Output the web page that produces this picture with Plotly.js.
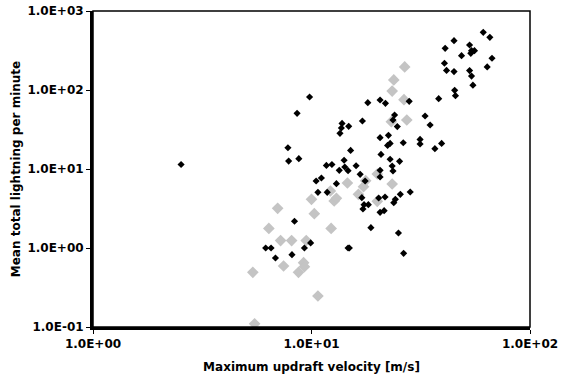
<!DOCTYPE html>
<html>
<head>
<meta charset="utf-8">
<script src="https://cdn.plot.ly/plotly-3.0.1.min.js"></script>
<style>html,body{margin:0;padding:0;background:#fff;}#chart{width:576px;height:385px;}</style>
</head>
<body>
<div id="chart"></div>
<script>
// Black series: maximum updraft velocity [m/s] vs mean total lightning per minute
const blackX = [2.53, 9.8, 8.59, 7.80, 7.86, 8.75, 8.36, 6.17, 6.53, 6.84, 8.14, 9.28, 9.91, 10.5, 11.1, 10.7, 11.7, 12.4, 11.8, 13.0, 13.4, 14.1, 14.2, 14.7, 13.5, 13.7, 13.8, 14.8, 15.1, 14.7, 14.9, 16.0, 16.7, 17.1, 18.1, 17.6, 17.0, 17.2, 17.4, 18.2, 18.7, 20.6, 21.8, 20.6, 20.8, 20.6, 20.6, 20.3, 20.6, 21.7, 21.5, 22.5, 22.3, 22.9, 23.6, 24.0, 24.7, 22.9, 23.4, 23.6, 23.8, 24.2, 25.3, 25.5, 25.0, 26.3, 26.4, 28.0, 28.3, 31.4, 31.4, 33.1, 34.9, 36.7, 38.2, 39.4, 40.6, 40.9, 41.5, 44.9, 44.9, 45.2, 45.6, 48.6, 52.9, 53.6, 54.0, 55.7, 52.9, 54.0, 54.8, 61.1, 65.5, 63.7, 67.0];
const blackY = [11.4, 81.5, 50.7, 18.6, 12.6, 13.5, 2.18, 1.0, 1.0, 0.747, 0.824, 1.0, 1.16, 7.05, 7.69, 5.07, 11.1, 11.4, 5.07, 6.52, 9.62, 12.9, 10.6, 9.53, 28.3, 33.0, 37.8, 34.7, 17.2, 1.0, 1.0, 11.0, 8.56, 40.5, 69.1, 7.05, 4.34, 3.12, 3.54, 3.54, 1.81, 74.7, 67.8, 24.9, 15.3, 9.62, 7.92, 4.30, 2.83, 4.42, 2.97, 26.7, 19.9, 21.1, 41.7, 48.3, 34.4, 13.3, 10.9, 9.44, 3.75, 4.13, 12.5, 4.78, 1.55, 21.5, 0.856, 71.9, 5.12, 23.7, 20.7, 46.9, 36.1, 18.1, 77.7, 21.1, 218, 337, 177, 421, 171, 99, 84.8, 272, 371, 291, 315, 315, 176, 150, 115, 537, 464, 196, 252];

// Gray series
const grayX = [26.7, 23.8, 23.4, 26.5, 27.3, 23.2, 20.0, 23.4, 17.7, 17.3, 16.4, 14.6, 20.0, 12.2, 10.0, 12.7, 13.0, 10.3, 12.3, 7.0, 6.38, 7.22, 8.11, 9.46, 7.45, 8.72, 9.20, 9.28, 5.39, 10.7, 5.49];
const grayY = [196, 134, 97, 75.4, 41.7, 39.7, 8.64, 6.46, 7.12, 5.98, 4.78, 6.65, 3.90, 5.27, 4.13, 3.94, 4.25, 2.72, 1.77, 3.18, 1.77, 1.24, 1.24, 1.24, 0.592, 0.492, 0.652, 0.580, 0.492, 0.247, 0.110];

const xTickVals = [1, 10, 100];
const xTickText = ['1.0E+00', '1.0E+01', '1.0E+02'];
const yTickVals = [0.1, 1, 10, 100, 1000];
const yTickText = ['1.0E-01', '1.0E+00', '1.0E+01', '1.0E+02', '1.0E+03'];

const fontFam = 'DejaVu Sans, Verdana, sans-serif';

const traces = [
  {x: grayX, y: grayY, type: 'scatter', mode: 'markers', cliponaxis: false,
   marker: {symbol: 'diamond', size: 9, color: '#c4c4c4'}},
  {x: blackX, y: blackY, type: 'scatter', mode: 'markers', cliponaxis: false,
   marker: {symbol: 'diamond', size: 5.5, color: '#000000'}}
];

const layout = {
  width: 576, height: 385,
  margin: {l: 93, r: 46, t: 11, b: 58},
  paper_bgcolor: '#ffffff', plot_bgcolor: '#ffffff',
  showlegend: false,
  font: {family: fontFam, size: 12, color: '#000'},
  xaxis: {
    type: 'log', range: [0, 2], tickvals: xTickVals, ticktext: xTickText,
    ticks: 'outside', ticklen: 4, tickwidth: 1, tickcolor: '#000',
    showgrid: false, zeroline: false, showline: true, linewidth: 3, linecolor: '#000',
    tickfont: {family: fontFam, size: 12, weight: 'bold', color: '#000'},
    title: {text: 'Maximum updraft velocity [m/s]', standoff: 13,
            font: {family: fontFam, size: 12, weight: 'bold', color: '#000'}}
  },
  yaxis: {
    type: 'log', range: [-1, 3], tickvals: yTickVals, ticktext: yTickText,
    ticks: 'outside', ticklen: 4, tickwidth: 1, tickcolor: '#000',
    showgrid: false, zeroline: false, showline: true, linewidth: 3, linecolor: '#000',
    tickfont: {family: fontFam, size: 12, weight: 'bold', color: '#000'},
    title: {text: 'Mean total lightning per minute', standoff: 5,
            font: {family: fontFam, size: 12, weight: 'bold', color: '#000'}}
  },
  shapes: [
    {type: 'rect', xref: 'paper', yref: 'paper', x0: 0, x1: 1, y0: 0, y1: 1,
     line: {color: '#000', width: 1.5}, layer: 'above'}
  ]
};

Plotly.newPlot('chart', traces, layout, {displayModeBar: false, staticPlot: true});
</script>
</body>
</html>
